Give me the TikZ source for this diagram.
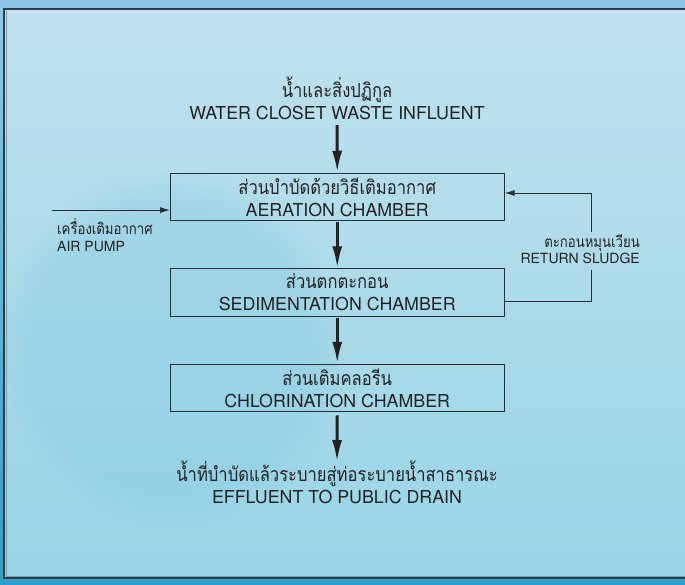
\documentclass[tikz,border=0pt]{standalone}
\usepackage{fontspec}
\setmainfont{TeX Gyre Heros}
\newfontfamily\thai[Script=Thai,FakeStretch=0.85]{Loma}
\usetikzlibrary{arrows.meta,fadings}
\definecolor{ink}{HTML}{222222}
\definecolor{boxline}{HTML}{2A2E33}
\definecolor{outtop}{HTML}{8FC8E6}
\definecolor{outbot}{HTML}{2F9FCC}
\definecolor{pantop}{HTML}{C0E1ED}
\definecolor{panbot}{HTML}{98D5E7}
\definecolor{blob}{HTML}{7FC6E0}
\definecolor{frame}{HTML}{2D3D47}
\definecolor{framein}{HTML}{7E9CA9}
\newcommand{\thbig}{\thai\fontsize{19.5pt}{22pt}\selectfont}
\newcommand{\thsmall}{\thai\fontsize{15.5pt}{16.5pt}\selectfont}
\begin{document}
\begin{tikzpicture}[x=1pt,y=-1pt,
  box/.style={draw=boxline, line width=1pt, minimum width=333.5pt, minimum height=47.5pt,
    inner sep=0pt, align=center, text=ink, font=\fontsize{17.8pt}{22pt}\selectfont},
  lbl/.style={align=center, inner sep=0pt, text=ink, font=\fontsize{17.8pt}{22pt}\selectfont},
  smalllbl/.style={inner sep=0pt, text=ink, font=\fontsize{14pt}{16.5pt}\selectfont},
  flow/.style={draw=ink, line width=3pt, -{Latex[length=22pt,width=10pt]}},
  thinline/.style={draw=boxline, line width=1pt},
  thinarrow/.style={thinline, -{Latex[length=10pt,width=6pt]}}]
\useasboundingbox (0,0) rectangle (685,584);
% outer background
\shade[top color=outtop, bottom color=outbot] (0,0) rectangle (685,584);
% panel
\shade[top color=pantop, bottom color=panbot] (4,9) rectangle (690,578);
\fill[blob, opacity=0.3, path fading=circle with fuzzy edge 20 percent] (170,350) ellipse [x radius=175pt, y radius=180pt];
\draw[framein, line width=1pt] (6,11) -- (6,576) -- (690,576);
\draw[frame, line width=2pt] (690,9) -- (4,9) -- (4,578) -- (690,578);
% nodes
\node[lbl] (infl) at (337,98) {{\thbig น้ำและสิ่งปฏิกูล}\\WATER CLOSET WASTE INFLUENT};
\node[box] (b1) at (337.25,197) {{\thbig ส่วนบำบัดด้วยวิธีเติมอากาศ}\\AERATION CHAMBER};
\node[box] (b2) at (337.25,292.5) {{\thbig ส่วนตกตะกอน}\\SEDIMENTATION CHAMBER};
\node[box] (b3) at (337.25,388) {{\thbig ส่วนเติมคลอรีน}\\CHLORINATION CHAMBER};
\node[lbl] (effl) at (337,482) {{\thbig น้ำที่บำบัดแล้วระบายสู่ท่อระบายน้ำสาธารณะ}\\EFFLUENT TO PUBLIC DRAIN};
\node[smalllbl, align=left, anchor=north west] (air) at (57,218.5) {{\thsmall เครื่องเติมอากาศ}\\AIR PUMP};
\node[smalllbl, align=right, anchor=east] (ret) at (640,249) {{\thsmall ตะกอนหมุนเวียน}\\RETURN SLUDGE};
\coordinate (airstart) at (52,210);
\coordinate (rsA) at (591,270);
\coordinate (rsB) at (591,232);
\coordinate (inflarrow) at (337,125);
\coordinate (efflarrow) at (337,462);
% connectors
\draw[flow] (inflarrow) -- (b1.north);
\draw[flow] ([yshift=-1pt]b1.south) -- (b2.north);
\draw[flow] ([yshift=-1pt]b2.south) -- (b3.north);
\draw[flow] ([yshift=-3pt]b3.south) -- (efflarrow);
\draw[thinarrow] (airstart) -- (airstart -| b1.west);
\draw[thinline] ([yshift=-9pt]b2.east) -| (rsA);
\draw[thinarrow] (rsB) |- ([yshift=4pt]b1.east);
\end{tikzpicture}
\end{document}
